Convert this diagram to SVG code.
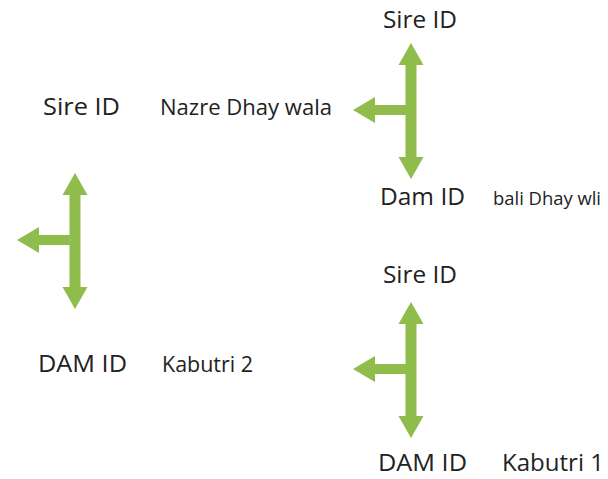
<svg xmlns="http://www.w3.org/2000/svg" xmlns:xlink="http://www.w3.org/1999/xlink" width="608" height="479" viewBox="0 0 608 479">
<style>
.t{font-family:"Open Sans","Liberation Sans",sans-serif;fill:#222;}
.b{font-size:23px;}
.s{font-size:22px;}
.arr{fill:#8fbc4a;}
</style>
<defs>
<path id="tarrow" class="arr" d="M0,0 L12.5,22 L5.5,22 L5.5,114 L12.5,114 L0,136 L-12.5,114 L-5.5,114 L-5.5,72 L-36,72 L-36,80 L-58,67 L-36,54 L-36,62 L-5.5,62 L-5.5,22 L-12.5,22 Z"/>
</defs>
<rect width="608" height="479" fill="#fff"/>
<g id="connectors">
<use xlink:href="#tarrow" href="#tarrow" transform="translate(411,43)"/>
<use xlink:href="#tarrow" href="#tarrow" transform="translate(75,173)"/>
<use xlink:href="#tarrow" href="#tarrow" transform="translate(411,302)"/>
</g>
<g id="sire1"><text class="t b" x="383" y="28" textLength="74" lengthAdjust="spacingAndGlyphs">Sire ID</text></g>
<g id="dam1"><text class="t b" x="380" y="205" textLength="85" lengthAdjust="spacingAndGlyphs">Dam ID</text></g>
<g id="dam1name"><text class="t" style="font-size:19px" x="493" y="205" textLength="108" lengthAdjust="spacingAndGlyphs">bali Dhay wli</text></g>
<g id="sire0"><text class="t b" x="43" y="115" textLength="77" lengthAdjust="spacingAndGlyphs">Sire ID</text></g>
<g id="sire0name"><text class="t s" x="160" y="115" textLength="172" lengthAdjust="spacingAndGlyphs">Nazre Dhay wala</text></g>
<g id="dam0"><text class="t b" x="38" y="372" textLength="89" lengthAdjust="spacingAndGlyphs">DAM ID</text></g>
<g id="dam0name"><text class="t s" x="162" y="372" textLength="91" lengthAdjust="spacingAndGlyphs">Kabutri 2</text></g>
<g id="sire2"><text class="t b" x="383" y="283" textLength="74" lengthAdjust="spacingAndGlyphs">Sire ID</text></g>
<g id="dam2"><text class="t b" x="378" y="471" textLength="89" lengthAdjust="spacingAndGlyphs">DAM ID</text></g>
<g id="dam2name"><text class="t b" x="502" y="471" textLength="102" lengthAdjust="spacingAndGlyphs">Kabutri 1</text></g>
</svg>
